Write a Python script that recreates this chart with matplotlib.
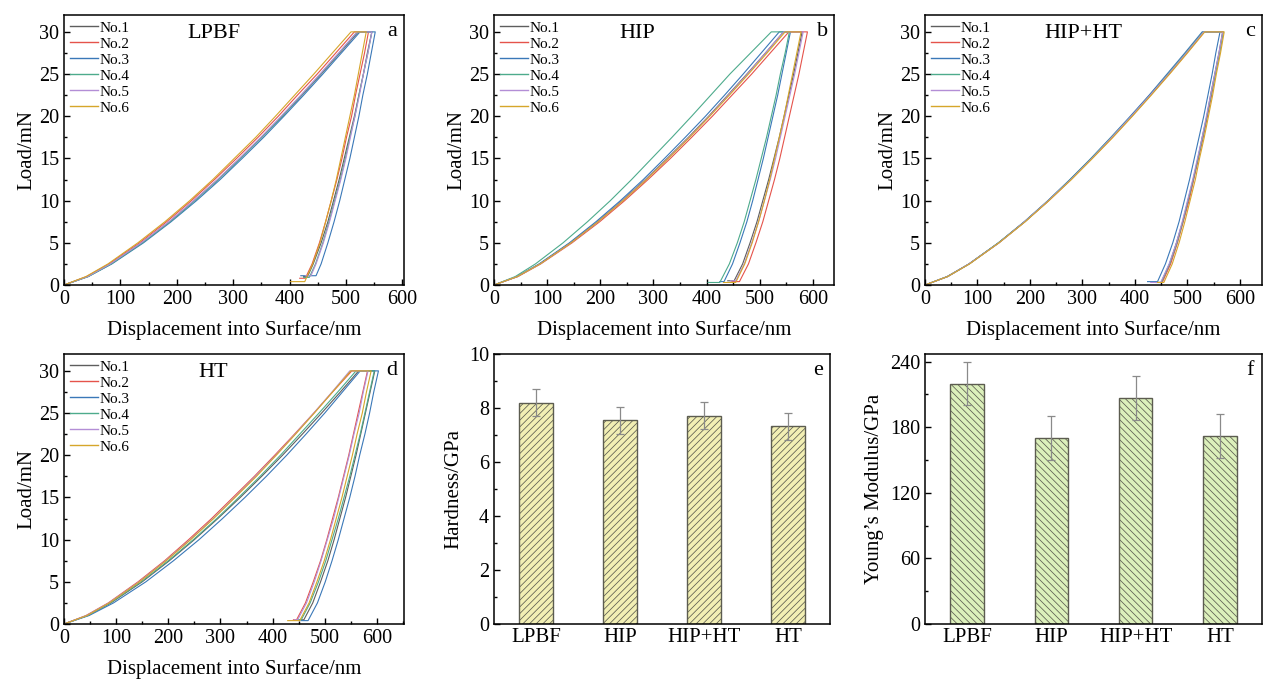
import numpy
import matplotlib
matplotlib.use("Agg")
import matplotlib.pyplot as plt
from matplotlib.ticker import MultipleLocator

plt.rcParams['font.family'] = ['Liberation Serif', 'DejaVu Serif']

curve_names = ["No.1", "No.2", "No.3", "No.4", "No.5", "No.6"]
curve_colors = ["#5e5e5e", "#e5534b", "#3a78b8", "#4dab8c", "#b38ed6", "#d6a62a"]

load_up = [0, 1, 2.5, 5, 7.5, 10, 12.5, 15, 17.5, 20, 22.5, 25, 27.5, 30]
load_dn = [30, 27.5, 25, 22.5, 20, 17.5, 15, 12.5, 10, 7.5, 5, 2.5]

# a - LPBF
lpbf_up = [[0, 42, 83, 138, 187, 231, 273, 312, 350, 387, 422, 456, 489, 522],
           [0, 40, 80, 134, 182, 226, 267, 306, 344, 380, 414, 449, 482, 515],
           [0, 43, 85, 141, 190, 235, 277, 316, 354, 390, 425, 459, 492, 525],
           [0, 43, 84, 139, 188, 232, 274, 313, 351, 387, 421, 455, 488, 520],
           [0, 42, 82, 137, 186, 230, 272, 311, 349, 385, 420, 454, 487, 520],
           [0, 39, 78, 131, 179, 223, 264, 302, 340, 375, 409, 443, 476, 509]]
lpbf_dn = [[546, 538, 531, 523, 515, 506, 497, 488, 478, 468, 456, 442],
           [540, 533, 525, 517, 510, 501, 493, 484, 474, 464, 453, 440],
           [552, 545, 538, 530, 523, 515, 507, 498, 489, 479, 468, 456],
           [546, 539, 531, 523, 516, 507, 499, 490, 480, 470, 459, 446],
           [546, 539, 531, 524, 516, 508, 500, 491, 481, 471, 460, 447],
           [536, 529, 522, 515, 507, 499, 491, 483, 474, 464, 454, 441]]
lpbf_end_load = [1.0, 0.8, 1.1, 0.9, 1.1, 0.4]
lpbf_end_disp = [432, 428, 447, 435, 438, 427]
lpbf_flat_disp = [425, 418, 420, 425, 428, 402]

# b - HIP
hip_up = [[0, 44, 86, 144, 195, 241, 285, 326, 366, 404, 440, 476, 511, 545],
          [0, 45, 88, 147, 199, 246, 290, 332, 372, 411, 448, 485, 520, 555],
          [0, 43, 85, 142, 192, 238, 281, 321, 360, 398, 434, 469, 503, 537],
          [0, 40, 78, 130, 176, 219, 259, 297, 335, 372, 408, 444, 483, 522],
          [0, 44, 87, 145, 196, 242, 286, 327, 367, 405, 441, 477, 511, 545],
          [0, 44, 87, 145, 196, 243, 287, 328, 368, 406, 443, 479, 514, 548]]
hip_dn = [[580, 572, 564, 555, 546, 537, 527, 517, 506, 495, 482, 468],
          [590, 582, 574, 565, 556, 547, 538, 528, 517, 506, 493, 479],
          [558, 550, 542, 534, 525, 516, 507, 497, 487, 476, 463, 449],
          [556, 548, 539, 531, 522, 513, 503, 493, 482, 471, 458, 443],
          [582, 574, 566, 557, 548, 539, 530, 520, 509, 498, 485, 471],
          [578, 570, 562, 554, 546, 537, 528, 519, 509, 498, 486, 472]]
hip_end_load = [0.5, 0.4, 0.4, 0.3, 0.5, 0.3]
hip_end_disp = [452, 462, 433, 425, 455, 455]
hip_flat_disp = [440, 448, 425, 403, 445, 432]

# c - HIP+HT
hipht_up = [[0, 43, 84, 140, 190, 235, 277, 317, 356, 393, 428, 463, 497, 530],
            [0, 43, 84, 141, 190, 236, 278, 318, 357, 394, 430, 465, 499, 532],
            [0, 42, 84, 140, 189, 234, 276, 316, 354, 391, 427, 461, 495, 528],
            [0, 43, 84, 140, 190, 235, 277, 317, 355, 393, 429, 463, 497, 530],
            [0, 43, 84, 141, 190, 235, 278, 318, 356, 393, 429, 464, 498, 531],
            [0, 43, 85, 141, 191, 236, 279, 319, 358, 395, 431, 466, 500, 533]]
hipht_dn = [[567, 560, 552, 544, 537, 528, 520, 511, 501, 491, 479, 466],
            [568, 561, 553, 546, 538, 530, 521, 512, 503, 492, 481, 468],
            [562, 554, 547, 539, 531, 522, 513, 504, 494, 484, 472, 458],
            [568, 561, 553, 545, 537, 529, 520, 511, 501, 491, 480, 466],
            [567, 560, 552, 544, 536, 528, 519, 510, 500, 490, 479, 465],
            [570, 563, 555, 548, 540, 532, 523, 515, 505, 495, 484, 471]]
hipht_end_load = [0.3, 0.3, 0.4, 0.3, 0.3, 0.3]
hipht_end_disp = [450, 452, 443, 450, 449, 455]
hipht_flat_disp = [440, 445, 424, 442, 430, 443]

# d - HT
ht_up = [[0, 45, 90, 150, 202, 250, 295, 338, 379, 419, 457, 494, 530, 565],
         [0, 42, 85, 142, 193, 239, 283, 324, 365, 404, 442, 479, 515, 552],
         [0, 48, 95, 157, 210, 259, 304, 347, 388, 427, 464, 500, 534, 568],
         [0, 45, 89, 148, 200, 248, 293, 335, 376, 415, 452, 489, 525, 560],
         [0, 43, 86, 144, 195, 242, 286, 327, 367, 406, 443, 479, 514, 548],
         [0, 44, 87, 145, 196, 243, 287, 328, 369, 407, 444, 480, 515, 550]]
ht_dn = [[596, 587, 578, 569, 560, 550, 540, 529, 518, 506, 492, 477],
         [582, 573, 564, 555, 546, 536, 526, 515, 504, 492, 478, 463],
         [603, 594, 586, 577, 567, 558, 548, 537, 526, 514, 501, 486],
         [595, 586, 577, 568, 558, 548, 537, 526, 514, 502, 488, 472],
         [583, 574, 566, 556, 547, 537, 527, 517, 505, 493, 480, 465],
         [589, 580, 572, 562, 553, 543, 533, 522, 511, 499, 485, 470]]
ht_end_load = [0.5, 0.5, 0.4, 0.5, 0.5, 0.4]
ht_end_disp = [460, 446, 468, 455, 448, 452]
ht_flat_disp = [452, 440, 455, 448, 442, 429]

# e, f - bar charts
states = ["LPBF", "HIP", "HIP+HT", "HT"]
hardness = [8.2, 7.55, 7.72, 7.32]
hardness_err = [0.5, 0.5, 0.51, 0.51]
modulus = [220, 170, 207, 172]
modulus_err = [20, 20, 20, 20]

fs_tick = 14.5
fs_label = 15


def style_axes(ax):
    for s in ax.spines.values():
        s.set_linewidth(1.1)
    ax.tick_params(which='both', direction='in', top=False, right=False, labelsize=fs_tick, width=1.0)
    ax.tick_params(which='major', length=4)
    ax.tick_params(which='minor', length=2.5)


def draw_curves(ax, up, dn, end_load, end_disp, flat_disp, xmax, title, title_x, letter):
    for i in range(6):
        h = up[i] + dn[i] + [end_disp[i], flat_disp[i]]
        p = load_up + load_dn + [end_load[i], end_load[i]]
        ax.plot(h, p, color=curve_colors[i], lw=0.8, label=curve_names[i])
    ax.set_xlim(0, xmax)
    ax.set_ylim(0, 32)
    ax.set_xticks([0, 100, 200, 300, 400, 500, 600])
    ax.set_yticks([0, 5, 10, 15, 20, 25, 30])
    ax.xaxis.set_minor_locator(MultipleLocator(50))
    ax.yaxis.set_minor_locator(MultipleLocator(2.5))
    ax.set_xlabel("Displacement into Surface/nm", fontsize=fs_label, labelpad=8)
    ax.set_ylabel("Load/mN", fontsize=fs_label, labelpad=2)
    style_axes(ax)
    leg = ax.legend(loc='upper left', frameon=False, fontsize=11, handlelength=1.8,
                    handletextpad=0.15, labelspacing=0.15, borderaxespad=0.3, borderpad=0.1)
    for line in leg.get_lines():
        line.set_linewidth(1.0)
    ax.text(title_x, 0.93, title, transform=ax.transAxes, ha='center', va='center', fontsize=16)
    ax.text(0.965, 0.975, letter, transform=ax.transAxes, ha='center', va='top', fontsize=16)


def draw_bars(ax, vals, errs, ymax, step, minor, ylabel, fill, hatch, letter):
    x = numpy.arange(len(states))
    ax.bar(x, vals, width=0.4, color=fill, edgecolor='#5c5c50', linewidth=1.0, hatch=hatch, zorder=2)
    ax.errorbar(x, vals, yerr=errs, fmt='none', ecolor='#8a8a8a', elinewidth=0.9, capsize=3, capthick=0.9, zorder=3)
    ax.set_xlim(-0.5, 3.5)
    ax.set_ylim(0, ymax)
    ax.set_xticks(x)
    ax.set_xticklabels(states)
    ax.yaxis.set_major_locator(MultipleLocator(step))
    ax.yaxis.set_minor_locator(MultipleLocator(minor))
    ax.set_ylabel(ylabel, fontsize=fs_label, labelpad=4)
    style_axes(ax)
    ax.tick_params(axis='x', which='both', length=0, labelsize=fs_label, pad=3)
    ax.text(0.965, 0.975, letter, transform=ax.transAxes, ha='center', va='top', fontsize=16)


plt.rcParams['hatch.linewidth'] = 0.55

fig = plt.figure(figsize=(12.65, 6.85), dpi=100)
W = 1265.0
H = 685.0

def add_ax(left, top, right, bottom):
    return fig.add_axes([left / W, 1 - bottom / H, (right - left) / W, (bottom - top) / H])

ax_a = add_ax(64, 15, 404, 285)
ax_b = add_ax(494, 15, 834, 285)
ax_c = add_ax(925, 15, 1262, 285)
ax_d = add_ax(64, 354, 404, 624)
ax_e = add_ax(494, 354, 830, 624)
ax_f = add_ax(925, 354, 1262, 624)

draw_curves(ax_a, lpbf_up, lpbf_dn, lpbf_end_load, lpbf_end_disp, lpbf_flat_disp, 603, "LPBF", 0.44, "a")
draw_curves(ax_b, hip_up, hip_dn, hip_end_load, hip_end_disp, hip_flat_disp, 640, "HIP", 0.42, "b")
draw_curves(ax_c, hipht_up, hipht_dn, hipht_end_load, hipht_end_disp, hipht_flat_disp, 642, "HIP+HT", 0.47, "c")
draw_curves(ax_d, ht_up, ht_dn, ht_end_load, ht_end_disp, ht_flat_disp, 652, "HT", 0.44, "d")

draw_bars(ax_e, hardness, hardness_err, 10, 2, 1, "Hardness/GPa", "#f2efb4", "/////", "e")
draw_bars(ax_f, modulus, modulus_err, 247, 60, 30, "Young\u2019s Modulus/GPa", "#dcf0bb", "\\\\\\\\\\", "f")

fig.savefig("out.png", dpi=100)
